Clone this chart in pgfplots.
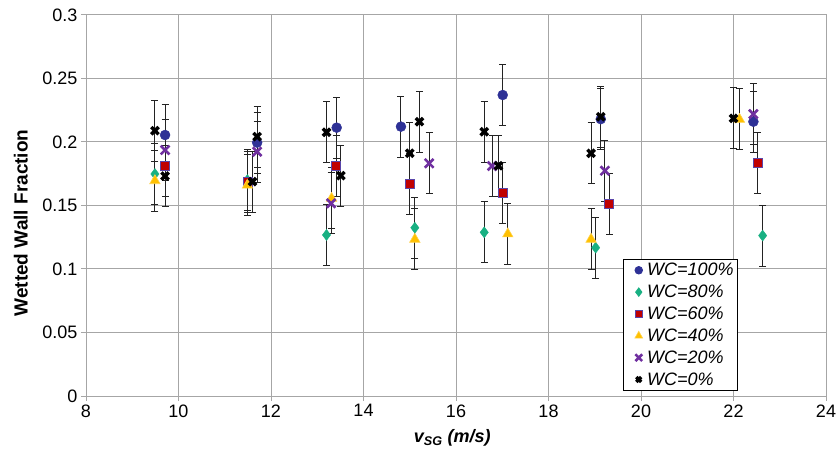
\documentclass[border=0pt]{standalone}
\usepackage{fontspec}
\setmainfont{Liberation Sans}
\usepackage{pgfplots}
\pgfplotsset{compat=1.18}

\definecolor{wcblue}{RGB}{46,49,150}
\definecolor{wcgreen}{RGB}{24,176,130}
\definecolor{wcred}{RGB}{192,0,0}
\definecolor{wcredborder}{RGB}{90,70,170}
\definecolor{wcyellow}{RGB}{255,192,0}
\definecolor{wcpurple}{RGB}{112,48,160}
\definecolor{gridgray}{RGB}{166,166,166}
\definecolor{barcol}{RGB}{35,35,35}

% Wetted wall fraction vs superficial gas velocity, one table per water cut
\pgfplotstableread{
x y
9.71 0.2055
11.70 0.1995
13.42 0.2113
14.81 0.2121
17.01 0.2370
19.13 0.2180
22.43 0.2160
}\wcHundred
\pgfplotstableread{
x y
9.49 0.1748
11.49 0.1700
13.20 0.1268
15.11 0.1325
16.61 0.1289
19.02 0.1168
22.63 0.1263
}\wcEighty
\pgfplotstableread{
x y
9.71 0.1811
11.49 0.1688
13.41 0.1811
15.00 0.1667
17.01 0.1596
19.31 0.1509
22.52 0.1837
}\wcSixty
\pgfplotstableread{
x y
9.49 0.1695
11.49 0.1660
13.31 0.1556
15.11 0.1234
17.12 0.1276
18.92 0.1234
22.13 0.2178
}\wcForty
\pgfplotstableread{
x y
9.71 0.1937
11.70 0.1924
13.30 0.1517
15.42 0.1832
16.78 0.1811
19.22 0.1774
22.43 0.2220
}\wcTwenty
\pgfplotstableread{
x y
9.49 0.2089
9.71 0.1732
11.60 0.1688
11.70 0.2042
13.20 0.2076
13.51 0.1735
15.00 0.1911
15.21 0.2160
16.61 0.2081
16.92 0.1813
18.92 0.1911
19.13 0.2199
22.00 0.2186
}\wcZero

\newcommand{\chartfont}{\fontsize{18bp}{21.6bp}\selectfont}

\begin{document}
\begin{tikzpicture}
\useasboundingbox (0,0) rectangle (840bp,453bp);
\begin{axis}[
  at={(86bp,57bp)}, anchor=south west,
  width=740bp, height=381bp, scale only axis,
  xmin=8, xmax=24, ymin=0, ymax=0.3,
  xtick={8,10,...,24},
  ytick={0,0.05,0.1,0.15,0.2,0.25,0.3},
  scaled y ticks=false,
  yticklabel style={/pgf/number format/fixed, /pgf/number format/precision=2},
  /pgf/number format/assume math mode=true,
  tick label style={font=\chartfont, text=black},
  grid=major,
  major grid style={draw=gridgray, line width=1bp},
  axis line style={draw=gridgray, line width=1bp},
  tick style={draw=gridgray, line width=1bp},
  tick align=outside, major tick length=5bp,
  xtick pos=bottom, ytick pos=left,
  xlabel={\textbf{\textit{v\textsubscript{SG} (m/s)}}},
  ylabel={\textbf{Wetted Wall Fraction}},
  xlabel style={font=\chartfont, at={(axis description cs:0.495,-0.11)}, anchor=center},
  ylabel style={font=\fontsize{19bp}{22bp}\selectfont, at={(axis description cs:-0.088,0.454)}, anchor=center},
  error bars/y dir=both,
  error bars/y fixed=0.024,
  error bars/error bar style={draw=barcol, line width=1bp},
  error bars/error mark options={draw=barcol, line width=1bp, mark size=3.5bp, rotate=90},
  legend style={at={(axis cs:19.61,0.108)}, anchor=north west,
    draw=black, line width=0.8bp, fill=white,
    font=\chartfont\itshape, inner xsep=2bp, inner ysep=2bp,
    row sep=3.8bp, column sep=0bp},
  legend image code/.code={%
    \path (0bp,0bp) (19bp,0bp);
    \draw[#1] plot coordinates {(13bp,0bp)};},
  legend cell align=left,
]
\addplot[only marks, mark=*, mark size=5bp, mark options={draw=wcblue, fill=wcblue},
  legend image post style={mark size=3.8bp}] table {\wcHundred};
\addlegendentry{WC=100\%}
\addplot[only marks, mark=diamond*, mark size=5.5bp, mark options={draw=wcgreen, fill=wcgreen},
  legend image post style={mark size=4.2bp}] table {\wcEighty};
\addlegendentry{WC=80\%}
\addplot[only marks, mark=square*, mark size=4.5bp, mark options={draw=wcredborder, fill=wcred, line width=0.8bp},
  legend image post style={mark size=3.5bp}] table {\wcSixty};
\addlegendentry{WC=60\%}
\addplot[only marks, mark=triangle*, mark size=6bp, mark options={draw=wcyellow!70!white, fill=wcyellow, line width=0.6bp},
  legend image post style={mark size=4.5bp}] table {\wcForty};
\addlegendentry{WC=40\%}
\addplot[only marks, mark=x, mark size=6.2bp, mark options={draw=wcpurple, line width=2.6bp},
  legend image post style={mark size=4.8bp}] table {\wcTwenty};
\addlegendentry{WC=20\%}
\addplot[only marks, mark=x, mark size=5.2bp, mark options={draw=black, line width=3.4bp},
  legend image post style={mark size=3.5bp}] table {\wcZero};
\addlegendentry{WC=0\%}
\end{axis}
\end{tikzpicture}
\end{document}
